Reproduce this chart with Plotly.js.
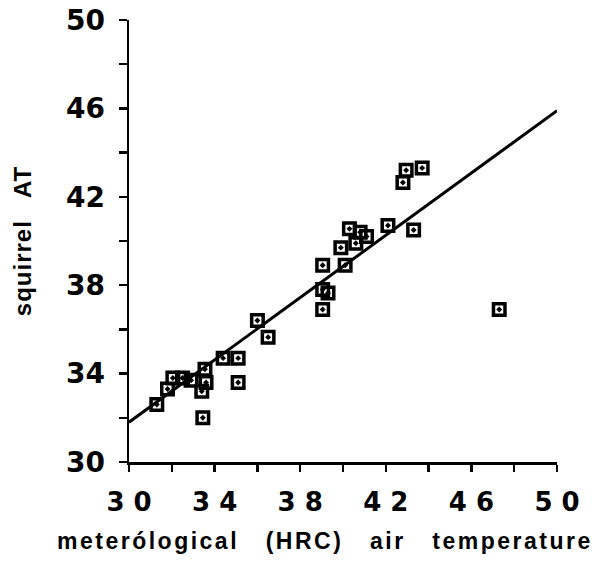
<!DOCTYPE html>
<html>
<head>
<meta charset="utf-8">
<script src="https://cdn.plot.ly/plotly-3.0.1.min.js"></script>
<style>
html,body{margin:0;padding:0;background:#fff;}
#chart{width:605px;height:561px;}
.annotation-text{letter-spacing:2.5px;}
.ytitle{letter-spacing:1px;}
</style>
</head>
<body>
<div id="chart"></div>
<script>
// Observed data (meteorological air temperature vs squirrel AT)
const airTemp = [31.3, 31.8, 32.05, 32.5, 32.9, 33.55, 33.6, 33.4, 33.45, 34.4, 35.1, 35.1, 36.0, 36.5,
                 39.05, 40.1, 39.05, 39.3, 39.05, 39.9, 40.3, 40.8, 41.1, 40.6, 42.1, 43.3, 42.95, 43.7, 42.8, 47.3];
const squirrelAT = [32.6, 33.3, 33.8, 33.8, 33.7, 34.2, 33.6, 33.2, 32.0, 34.7, 34.7, 33.6, 36.4, 35.65,
                    38.9, 38.9, 37.8, 37.65, 36.9, 39.7, 40.55, 40.4, 40.2, 39.9, 40.7, 40.5, 43.2, 43.3, 42.65, 36.9];
// Regression line end points
const fitX = [30, 50];
const fitY = [31.8, 45.9];
// Ticks
const xTickVals = [30, 32, 34, 36, 38, 40, 42, 44, 46, 48, 50];
const xTickText = ["3 0", "", "3 4", "", "3 8", "", "4 2", "", "4 6", "", "5 0"];
const yTickVals = [30, 32, 34, 36, 38, 40, 42, 44, 46, 48, 50];
const yTickText = ["30", "", "34", "", "38", "", "42", "", "46", "", "50"];
const xTitle = "meterólogical   (HRC)   air   temperature";
const yTitle = "squirrel   AT";

const TICKFONT = "DejaVu Sans, Arial, sans-serif";
const TITLEFONT = "Liberation Sans, Arial, Helvetica, sans-serif";

const traces = [
  {
    x: fitX, y: fitY, type: "scatter", mode: "lines",
    line: {color: "#000", width: 3}, hoverinfo: "skip", cliponaxis: false
  },
  {
    x: airTemp, y: squirrelAT, type: "scatter", mode: "markers",
    marker: {symbol: "square-open-dot", size: 11.5, color: "#000", line: {width: 3.5, color: "#000"}},
    cliponaxis: false
  }
];

const layout = {
  width: 605, height: 561,
  margin: {l: 129, r: 48, t: 20, b: 99},
  paper_bgcolor: "#fff", plot_bgcolor: "#fff",
  showlegend: false,
  xaxis: {
    range: [30, 50], showgrid: false, zeroline: false,
    showline: true, linecolor: "#000", linewidth: 2.5,
    ticks: "outside", ticklen: 7, tickwidth: 2.5, tickcolor: "#000",
    tickvals: xTickVals, ticktext: xTickText, ticklabelstandoff: 8,
    tickfont: {family: TICKFONT, size: 26, color: "#000", weight: "bold"}
  },
  yaxis: {
    range: [30, 50], showgrid: false, zeroline: false,
    showline: true, linecolor: "#000", linewidth: 2.5,
    ticks: "outside", ticklen: 8, tickwidth: 2.5, tickcolor: "#000",
    tickvals: yTickVals, ticktext: yTickText, ticklabelstandoff: 8,
    tickfont: {family: TICKFONT, size: 28, color: "#000", weight: "bold"},
    title: {text: yTitle, standoff: 28,
            font: {family: TITLEFONT, size: 24, color: "#000", weight: "bold"}}
  },
  annotations: [{
    text: xTitle, xref: "paper", yref: "paper", x: 0.458, y: -0.178,
    xanchor: "center", yanchor: "middle", showarrow: false,
    font: {family: TITLEFONT, size: 23, color: "#000", weight: "bold"}
  }]
};

Plotly.newPlot("chart", traces, layout, {displayModeBar: false, staticPlot: true});
</script>
</body>
</html>
